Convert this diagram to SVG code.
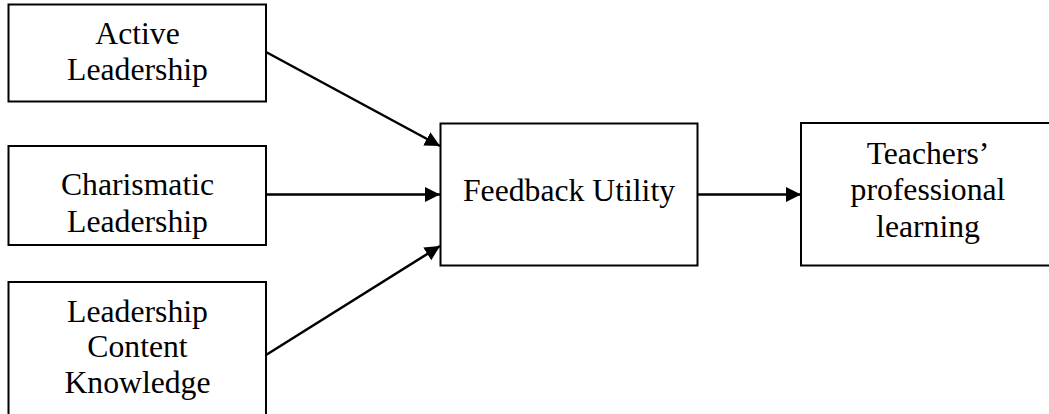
<svg xmlns="http://www.w3.org/2000/svg" width="1049" height="414" viewBox="0 0 1049 414">
<style>
.box{fill:#fff;stroke:#000;stroke-width:2}
.t{font-family:"Liberation Serif","Times New Roman",serif;font-size:31.7px;fill:#000;text-anchor:middle}
.c{stroke:#000;stroke-width:2.5;fill:none}
</style>
<defs>
<marker id="ah" markerUnits="userSpaceOnUse" markerWidth="17" markerHeight="16" refX="15" refY="8" orient="auto">
<path d="M0,0.5 L15,8 L0,15.5 Z" fill="#000"/>
</marker>
</defs>
<rect width="1049" height="414" fill="#fff"/>
<g id="active">
<rect class="box" x="8.5" y="4.5" width="257.5" height="97"/>
<text class="t" x="137.5" y="43.5">Active</text>
<text class="t" x="137.5" y="80">Leadership</text>
</g>
<g id="charismatic">
<rect class="box" x="8.5" y="146" width="257.5" height="99"/>
<text class="t" x="137.5" y="195">Charismatic</text>
<text class="t" x="137.5" y="231.5">Leadership</text>
</g>
<g id="lck">
<rect class="box" x="8.5" y="282" width="257.5" height="140"/>
<text class="t" x="137.5" y="321.5">Leadership</text>
<text class="t" x="137.5" y="357">Content</text>
<text class="t" x="137.5" y="393">Knowledge</text>
</g>
<g id="feedback">
<rect class="box" x="440.5" y="123.5" width="257" height="142"/>
<text class="t" x="569" y="200.5">Feedback Utility</text>
</g>
<g id="teachers">
<rect class="box" x="801" y="123" width="260" height="142.5"/>
<text class="t" x="928" y="163.5">Teachers’</text>
<text class="t" x="928" y="200">professional</text>
<text class="t" x="928" y="236.5">learning</text>
</g>
<g id="connectors">
<line class="c" x1="266" y1="52" x2="440" y2="146" marker-end="url(#ah)"/>
<line class="c" x1="266" y1="194.5" x2="440" y2="194.5" marker-end="url(#ah)"/>
<line class="c" x1="266" y1="355" x2="440" y2="246" marker-end="url(#ah)"/>
<line class="c" x1="697.5" y1="194.5" x2="801" y2="194.5" marker-end="url(#ah)"/>
</g>
</svg>
